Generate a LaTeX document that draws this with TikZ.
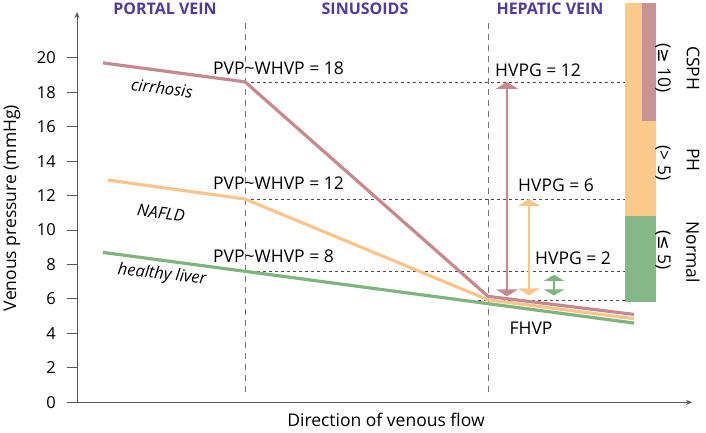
\documentclass[tikz,border=0pt]{standalone}
\usepackage{fontspec}
\setmainfont{Open Sans}
\newfontfamily\symfont{DejaVu Sans}
\usetikzlibrary{arrows.meta}

\definecolor{cirrhosiscol}{HTML}{C48A90}
\definecolor{nafldcol}{HTML}{F8C68C}
\definecolor{healthycol}{HTML}{7FB47F}
\definecolor{barorange}{HTML}{FBCB8C}
\definecolor{bargreen}{HTML}{86B887}
\definecolor{barred}{HTML}{C9919A}
\definecolor{headcol}{HTML}{4E3C96}
\definecolor{axiscol}{HTML}{555555}

\begin{document}
\begin{tikzpicture}[
    x = 1pt,
    y = 17.23pt,
    axis/.style = {draw = axiscol, line width = 0.9pt},
    guide/.style = {draw = black!70, line width = 0.6pt, dash pattern = on 3pt off 3pt},
    divider/.style = {draw = black!55, line width = 0.7pt, dash pattern = on 6pt off 5pt},
    curve/.style = {line width = 3.2pt, line join = round},
    region/.style = {font = \bfseries\fontsize{16}{19}\selectfont, text = headcol},
    reading/.style = {font = \fontsize{17.5}{20}\selectfont, inner sep = 0pt},
    caselabel/.style = {font = \itshape\fontsize{16.5}{19}\selectfont, inner sep = 0pt},
    gradient/.style = {line width = 1.4pt, {Triangle[width = 22pt, length = 7pt]}-{Triangle[width = 22pt, length = 7pt]}},
    category/.style = {font = \fontsize{17.5}{20}\selectfont, rotate = -90, inner sep = 0pt},
    ticklabel/.style = {font = \fontsize{16.5}{19}\selectfont, anchor = east, inner sep = 0pt}
]
\useasboundingbox (-77, -1.724) rectangle (629, 23.35);

% Pressure categories bar
\fill[barorange] (548, 5.85) rectangle (579, 23.17);
\fill[bargreen] (548, 5.85) rectangle (579, 10.8);
\fill[barred] (565, 16.3) rectangle (579, 23.17);

% Axes
\draw[axis, -{Stealth[length = 6pt, width = 5pt]}] (0, 0) -- (0, 22.65);
\draw[axis, -{Stealth[length = 6pt, width = 5pt]}] (0, 0) -- (615, 0);
\foreach \v in {0, 2, ..., 20}{
    \draw[axis] (-10, \v) -- (0, \v);
    \node[ticklabel] (tick\v) at (-21, \v) {\v};
}

% Compartment dividers
\draw[divider] (168, 0.6) -- (168, 22.1);
\draw[divider] (411, 0.6) -- (411, 22.1);

% Pressure guide lines
\draw[guide] (168, 18.6) -- (548, 18.6);
\draw[guide] (168, 11.8) -- (548, 11.8);
\draw[guide] (168, 7.6) -- (548, 7.6);
\draw[guide] (383, 5.9) -- (548, 5.9);

% Pressure curves
\draw[curve, healthycol] (26, 8.7) -- (557, 4.6);
\draw[curve, nafldcol] (31, 12.9) -- (168, 11.8) -- (411, 5.95) -- (557, 4.85);
\draw[curve, cirrhosiscol] (26, 19.7) -- (168, 18.6) -- (411, 6.15) -- (557, 5.1);

% Gradient arrows
\draw[gradient, cirrhosiscol] (430, 6.15) -- (430, 18.6);
\draw[gradient, nafldcol] (452, 6.2) -- (452, 11.8);
\draw[gradient, healthycol, {Triangle[width = 20pt, length = 6pt]}-{Triangle[width = 20pt, length = 6pt]}] (477, 6.2) -- (477, 7.4);

% Region headers
\node[region] (portal) at (88, 22.83) {PORTAL VEIN};
\node[region] (sinus) at (288, 22.83) {SINUSOIDS};
\node[region] (hepatic) at (473, 22.83) {HEPATIC VEIN};

% Pressure readings
\node[reading, anchor = west] (pvp18) at (136, 19.4) {PVP\textasciitilde WHVP = 18};
\node[reading, anchor = west] (pvp12) at (136, 12.73) {PVP\textasciitilde WHVP = 12};
\node[reading, anchor = west] (pvp8) at (136, 8.49) {PVP\textasciitilde WHVP = 8};
\node[reading, anchor = west] (hvpg12) at (418, 19.29) {HVPG = 12};
\node[reading, anchor = west] (hvpg6) at (441, 12.61) {HVPG = 6};
\node[reading, anchor = west] (hvpg2) at (458, 8.37) {HVPG = 2};
\node[reading] (fhvp) at (454, 4.31) {FHVP};

% Curve labels
\node[caselabel, rotate = -7] (cirrhosis) at (85, 18.24) {cirrhosis};
\node[caselabel, rotate = -7] (nafld) at (84, 11.0) {NAFLD};
\node[caselabel, rotate = -6] (healthy) at (85, 7.39) {healthy liver};

% Category labels
\node[category] (csph) at (616, 19.4) {CSPH};
\node[category] (csphval) at (586, 19.4) {({\symfont ≥} 10)};
\node[category] (ph) at (616, 14.06) {PH};
\node[category] (phval) at (586, 13.9) {(> 5)};
\node[category] (normal) at (616, 8.72) {Normal};
\node[category] (normalval) at (586, 8.84) {({\symfont ≤} 5)};

% Axis titles
\node[reading, rotate = 90] (ytitle) at (-65, 11.28) {Venous pressure (mmHg)};
\node[reading] (xtitle) at (309, -1.03) {Direction of venous flow};

\end{tikzpicture}
\end{document}
